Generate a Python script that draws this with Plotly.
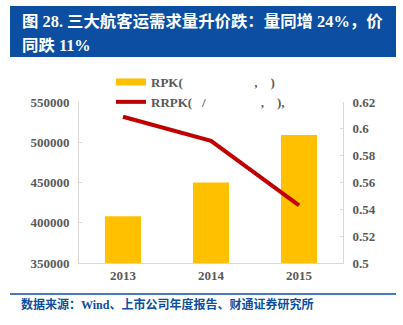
import plotly.graph_objects as go

# ---- data ----
years = ["2013", "2014", "2015"]
rpk = [408000, 450000, 509000]
rrpk = [0.609, 0.591, 0.543]
left_ticks = [350000, 400000, 450000, 500000, 550000]
right_ticks = [0.5, 0.52, 0.54, 0.56, 0.58, 0.6, 0.62]
right_ticktext = ["0.5", "0.52", "0.54", "0.56", "0.58", "0.6", "0.62"]
name_rpk = "RPK(\u00a0\u00a0\u00a0\u00a0\u00a0\u00a0\u00a0\u00a0\u00a0\u00a0\u00a0\u00a0\u00a0\u00a0\u00a0\u00a0\u00a0\u00a0\u00a0\u00a0\u00a0\u00a0,\u00a0\u00a0\u00a0\u00a0)"
name_rrpk = "RRPK(\u00a0\u00a0\u00a0/\u00a0\u00a0\u00a0\u00a0\u00a0\u00a0\u00a0\u00a0\u00a0\u00a0\u00a0\u00a0\u00a0\u00a0\u00a0\u00a0\u00a0,\u00a0\u00a0\u00a0\u00a0),"
title1 = "图 28. 三大航客运需求量升价跌：量同增 24%，价"
title2 = "同跌 11%"
source = "数据来源：Wind、上市公司年度报告、财通证券研究所"

W, H = 403, 325
L, R, T, B = 79, 60, 102, 62
PW, PH = W - L - R, H - T - B

def px(x):
    return (x - L) / PW

def py(y):
    return (H - B - y) / PH

FONT = "Liberation Serif, Noto Sans CJK SC"
GRAY = "#595959"
BLUE = "#0B4EA2"

fig = go.Figure()
fig.add_trace(go.Bar(x=years, y=rpk, marker=dict(color="#FFC000", line=dict(width=0)),
                     showlegend=False, legendgroup="rpk", name=name_rpk))
fig.add_trace(go.Scatter(x=[None], y=[None], mode="lines", name=name_rpk, legendgroup="rpk",
                         line=dict(color="#FFC000", width=7)))
fig.add_trace(go.Scatter(x=years, y=rrpk, mode="lines", name=name_rrpk, yaxis="y2",
                         line=dict(color="#C00000", width=4)))

axis_font = dict(family=FONT, size=13, color=GRAY, weight="bold")

fig.update_layout(
    width=W, height=H,
    margin=dict(l=L, r=R, t=T, b=B),
    paper_bgcolor="white", plot_bgcolor="white",
    bargap=0.59,
    xaxis=dict(type="category", showline=True, linecolor="#d9d9d9", linewidth=1,
               showgrid=False, ticks="", tickfont=axis_font),
    yaxis=dict(range=[350000, 550000], tickvals=left_ticks, tickformat="d",
               showline=True, linecolor="#d9d9d9", linewidth=1, showgrid=False,
               zeroline=False, ticks="inside", ticklen=3, tickcolor="#d9d9d9",
               tickfont=axis_font, ticklabelstandoff=6),
    yaxis2=dict(range=[0.5, 0.62], tickvals=right_ticks, ticktext=right_ticktext,
                overlaying="y", side="right", showline=True, linecolor="#d9d9d9",
                linewidth=1, showgrid=False, zeroline=False, ticks="inside",
                ticklen=3, tickcolor="#d9d9d9", tickfont=axis_font, ticklabelstandoff=6),
    legend=dict(x=px(111), y=py(67), xanchor="left", yanchor="top",
                bgcolor="rgba(0,0,0,0)", font=dict(family=FONT, size=13, color=GRAY, weight="bold"),
                tracegroupgap=0, itemwidth=30),
    showlegend=True,
)

# title band
fig.add_shape(type="rect", xref="paper", yref="paper", x0=px(10), x1=px(396),
              y0=py(57), y1=py(6), fillcolor=BLUE, line=dict(width=0), layer="below")
fig.add_annotation(text=title1, xref="paper", yref="paper", x=px(20), y=py(21),
                   xanchor="left", yanchor="middle", showarrow=False,
                   font=dict(family=FONT, size=16.4, color="white", weight="bold"))
fig.add_annotation(text=title2, xref="paper", yref="paper", x=px(20), y=py(45),
                   xanchor="left", yanchor="middle", showarrow=False,
                   font=dict(family=FONT, size=16.4, color="white", weight="bold"))
# footer
fig.add_shape(type="line", xref="paper", yref="paper", x0=px(10), x1=px(396),
              y0=py(294), y1=py(294), line=dict(color=BLUE, width=1.5))
fig.add_annotation(text=source, xref="paper", yref="paper", x=px(19), y=py(304),
                   xanchor="left", yanchor="middle", showarrow=False,
                   font=dict(family=FONT, size=12, color=BLUE, weight="bold"))

fig.write_html("out.html")
